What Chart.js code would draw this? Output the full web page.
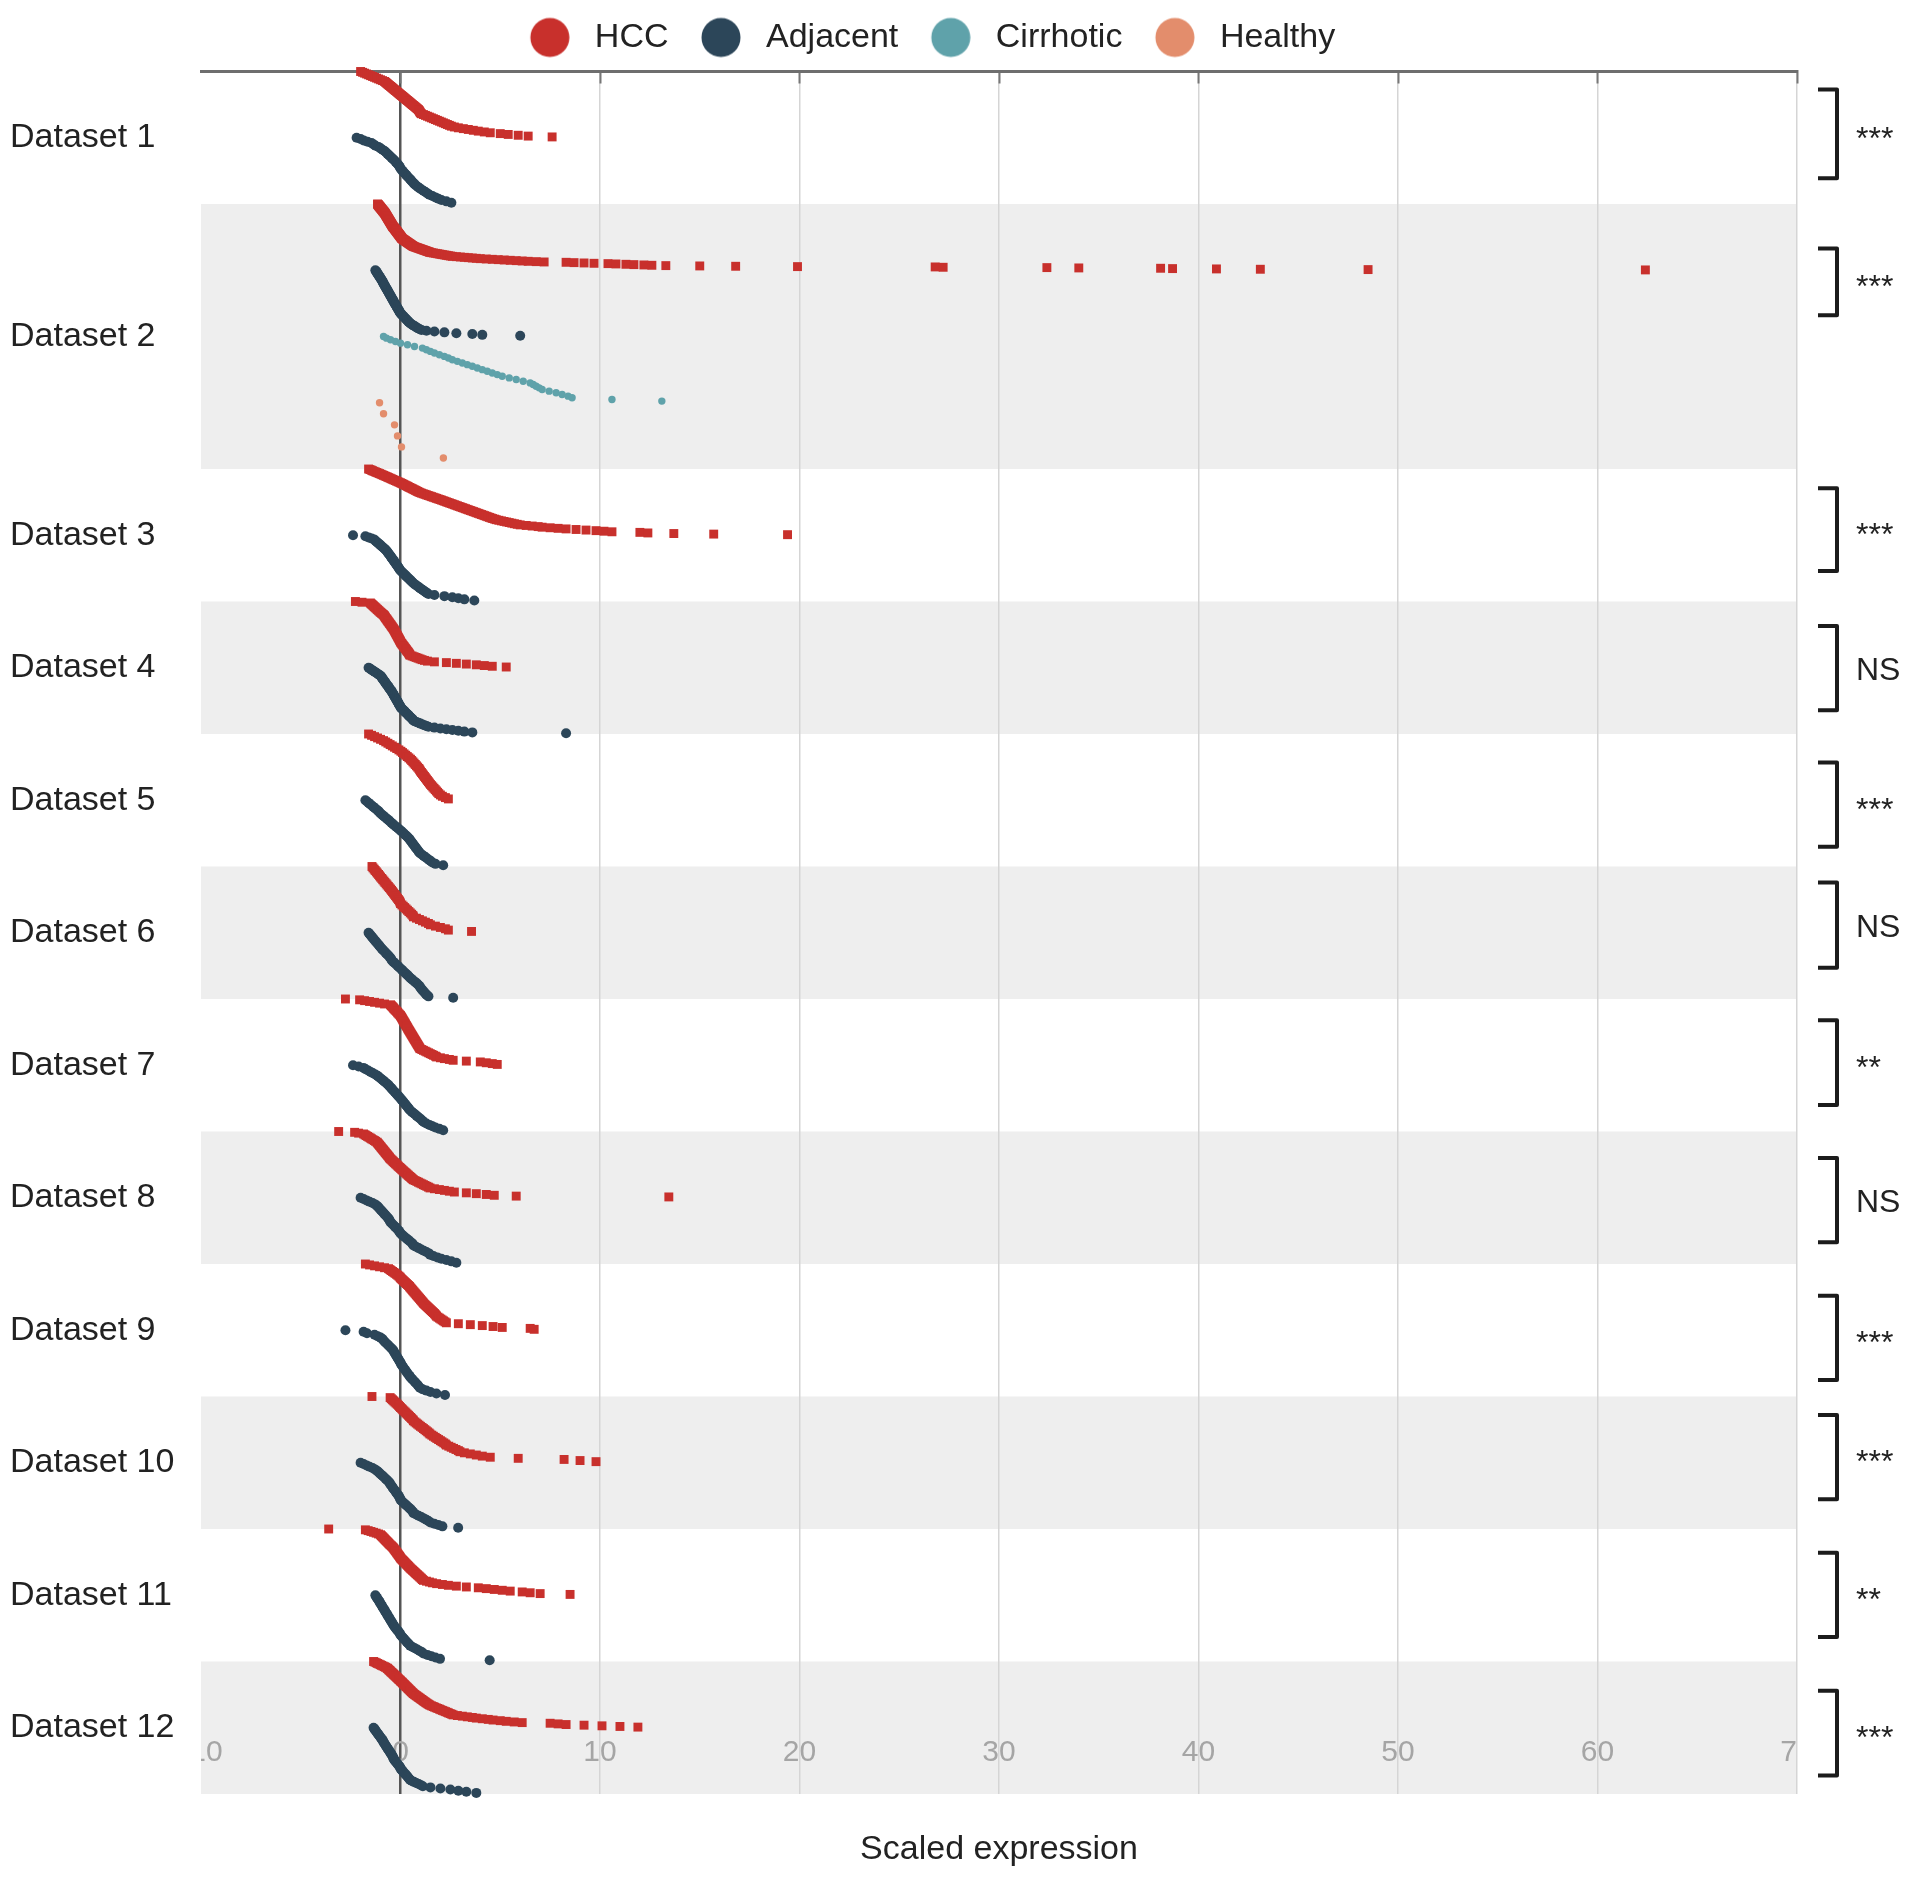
<!DOCTYPE html>
<html>
<head>
<meta charset="utf-8">
<script src="https://cdn.jsdelivr.net/npm/chart.js@4.4.1/dist/chart.umd.min.js"></script>
<style>
  html, body { margin: 0; padding: 0; background: #ffffff; }
  canvas { display: block; }
</style>
</head>
<body>
<canvas id="chart" width="1913" height="1879"></canvas>
<script>
// rows of the chart and their significance marks
const datasetLabels = ['Dataset 1', 'Dataset 2', 'Dataset 3', 'Dataset 4', 'Dataset 5', 'Dataset 6',
  'Dataset 7', 'Dataset 8', 'Dataset 9', 'Dataset 10', 'Dataset 11', 'Dataset 12'];
const significance = ['***', '***', '***', 'NS', '***', 'NS', '**', 'NS', '***', '***', '**', '***'];
// groups drawn in each row (HCC, Adjacent, then Cirrhotic and Healthy for Dataset 2)
const groupsPerRow = [2, 4, 2, 2, 2, 2, 2, 2, 2, 2, 2, 2];
// bracket extent inside each row, in group units
const bracketFrom = [0.27, 0.67, 0.29, 0.37, 0.43, 0.24, 0.32, 0.40, 0.48, 0.28, 0.36, 0.44];
const bracketTo = [1.61, 1.68, 1.54, 1.64, 1.70, 1.53, 1.60, 1.67, 1.75, 1.55, 1.63, 1.72];

const xMin = -10;
const xMax = 70;
const xStep = 10;

// sorted scaled expression values
const hcc1 = [-2.0,-1.9,-1.8,-1.7,-1.6,-1.5,-1.4,-1.3,-1.2,-1.1,-1.0,-0.9,
  -0.8,-0.75,-0.7,-0.65,-0.6,-0.55,-0.5,-0.45,-0.4,-0.35,-0.3,-0.25,-0.2,-0.15,-0.1,-0.05,0.0,
  0.05,0.1,0.15,0.2,0.25,0.3,0.35,0.4,0.45,0.5,0.55,0.6,0.65,0.7,0.75,0.8,0.85,0.9,0.93,0.95,0.98,1.0,
  1.05,1.15,1.25,1.35,1.45,1.55,1.65,1.75,1.85,1.95,2.05,2.15,2.25,2.35,2.45,2.55,
  2.7,2.9,3.15,3.4,3.65,3.9,4.2,4.5,5.0,5.4,5.9,6.4,7.6];
const adjacent1 = [-2.2,-2.0,-1.85,-1.65,-1.45,-1.35,-1.25,-1.1,-1.0,-0.9,
  -0.8,-0.73,-0.66,-0.59,-0.52,-0.45,-0.38,-0.31,-0.25,-0.19,-0.13,-0.08,-0.04,0.0,
  0.04,0.1,0.16,0.22,0.28,0.34,0.4,0.46,0.52,0.58,0.64,
  0.7,0.78,0.86,0.95,1.05,1.15,1.25,1.35,1.45,1.6,1.75,1.9,2.05,2.3,2.55];

const hcc2 = [-1.15,-1.14,-1.12,-1.11,-1.10,-1.08,-1.07,-1.06,-1.04,-1.03,-1.02,-1.0,-0.99,-0.98,-0.96,
  -0.95,-0.94,-0.92,-0.91,-0.9,-0.88,-0.87,-0.86,-0.84,-0.83,-0.82,-0.8,-0.79,-0.78,-0.77,
  -0.76,-0.75,-0.74,-0.73,-0.72,-0.71,-0.70,-0.69,-0.68,-0.67,-0.66,-0.65,-0.64,-0.63,-0.62,-0.61,-0.60,
  -0.59,-0.58,-0.57,-0.56,-0.55,-0.54,-0.53,-0.52,-0.51,-0.50,-0.49,-0.48,-0.47,-0.46,-0.45,-0.44,-0.43,
  -0.42,-0.41,-0.40,-0.39,-0.38,-0.37,
  -0.35,-0.34,-0.32,-0.31,-0.30,-0.29,-0.27,-0.26,-0.25,-0.24,-0.22,-0.21,-0.20,-0.19,-0.17,-0.16,-0.15,
  -0.14,-0.12,-0.11,-0.10,-0.09,-0.07,-0.06,-0.05,-0.04,-0.02,-0.01,0,0.01,0.03,0.04,0.05,0.06,
  0.07,0.1,0.12,0.14,0.17,0.19,0.22,0.24,0.26,0.29,0.31,0.34,0.36,0.38,0.41,0.43,0.46,0.48,0.5,0.53,0.55,0.58,0.6,0.63,
  0.65,0.7,0.74,0.79,0.84,0.88,0.93,0.98,1.02,1.07,1.12,1.16,1.21,1.26,1.3,1.35,1.4,1.45,
  1.48,1.57,1.66,1.76,1.85,1.94,2.03,2.12,2.22,2.31,2.4,2.5,
  2.6,2.8,3.0,3.2,3.4,3.6,3.8,4.0,
  4.3,4.6,4.9,5.2,5.5,5.8,6.1,6.4,6.8,7.2,8.3,8.7,9.2,9.7,10.4,10.8,11.3,11.7,12.2,12.6,
  13.3,15.0,16.8,19.9,26.8,27.2,32.4,34.0,38.1,38.7,40.9,43.1,48.5,62.4];
const adjacent2 = [-1.26,-1.23,-1.2,-1.18,-1.15,-1.12,-1.1,-1.07,-1.04,-1.02,-0.99,-0.96,-0.94,-0.91,-0.89,-0.87,
  -0.85,-0.83,-0.8,-0.78,-0.76,-0.73,-0.71,-0.68,-0.66,-0.64,-0.61,-0.59,-0.57,-0.54,-0.52,-0.5,-0.47,-0.45,
  -0.43,-0.4,-0.38,-0.36,-0.33,-0.31,-0.29,-0.26,-0.24,-0.21,-0.19,-0.17,-0.14,-0.12,-0.09,-0.07,-0.05,-0.02,
  0,0.04,0.08,0.12,0.16,0.2,0.24,0.28,0.32,0.36,0.4,0.45,
  0.48,0.54,0.6,0.67,0.74,0.8,0.87,0.95,
  1.05,1.3,1.7,2.2,2.8,3.6,4.1,6.0];
const cirrhotic2 = [-0.85,-0.7,-0.5,-0.25,0,0.35,0.7,1.1,1.3,1.5,1.7,1.95,2.2,2.4,2.6,2.85,3.1,3.35,3.6,3.85,
  4.1,4.35,4.6,4.85,5.1,5.45,5.8,6.15,6.5,6.65,6.8,6.95,7.1,7.45,7.8,8.1,8.4,8.6,10.6,13.1];
const healthy2 = [-1.05,-0.85,-0.3,-0.15,0.05,2.15];

const hcc3 = [-1.6,-1.53,-1.46,-1.4,-1.33,-1.26,-1.19,-1.12,-1.05,-0.98,-0.92,
  -0.85,-0.78,-0.72,-0.65,-0.59,-0.52,-0.46,-0.39,-0.33,-0.26,-0.2,-0.13,-0.07,
  0,0.06,0.12,0.17,0.23,0.29,0.35,0.4,0.46,0.52,0.58,0.63,0.69,0.75,0.81,0.86,0.92,
  0.98,1.06,1.14,1.23,1.31,1.39,1.48,1.56,1.64,1.73,1.81,1.89,1.98,2.06,
  2.14,2.22,2.3,2.38,2.46,2.54,2.62,2.7,2.78,2.86,2.94,3.02,3.1,3.18,3.26,3.34,3.42,
  3.5,3.58,3.66,3.74,3.82,3.9,3.98,4.06,4.14,4.22,4.3,4.38,4.46,4.54,4.62,4.72,
  4.8,4.93,5.06,5.19,5.32,5.45,5.58,5.71,5.85,
  6.0,6.3,6.6,6.9,7.1,7.5,7.9,8.3,8.8,9.3,
  9.8,10.2,10.6,12.0,12.4,13.7,15.7,19.4];
const adjacent3 = [-2.38,-1.76,-1.6,-1.45,-1.32,
  -1.26,-1.2,-1.14,-1.08,-1.02,-0.96,-0.9,-0.84,-0.78,-0.72,
  -0.68,-0.64,-0.6,-0.56,-0.52,-0.48,-0.45,-0.41,-0.37,-0.33,-0.29,-0.26,-0.22,-0.18,-0.14,-0.11,-0.07,-0.04,
  0,0.05,0.11,0.16,0.22,0.27,0.33,0.38,0.44,0.49,0.55,0.6,
  0.65,0.72,0.8,0.87,0.95,1.02,1.1,1.17,1.25,1.32,1.4,
  1.7,2.2,2.6,2.9,3.2,3.7];

const hcc4 = [-2.26,-1.93,
  -1.51,-1.47,-1.43,-1.39,-1.35,-1.31,-1.27,-1.23,-1.19,-1.15,-1.11,-1.07,-1.03,-0.99,-0.95,-0.9,
  -0.85,-0.82,-0.8,-0.77,-0.75,-0.72,-0.69,-0.67,-0.64,-0.62,-0.59,-0.56,-0.54,-0.51,-0.48,-0.46,-0.43,-0.41,-0.38,
  -0.35,-0.33,-0.31,-0.29,-0.27,-0.25,-0.23,-0.21,-0.19,-0.17,-0.15,-0.13,-0.11,-0.09,-0.07,-0.05,-0.03,-0.01,
  0,0.03,0.06,0.08,0.11,0.14,0.17,0.19,0.22,0.25,0.28,0.3,0.33,0.36,0.39,0.41,0.44,0.46,
  0.48,0.58,0.68,0.78,0.88,0.98,1.08,1.2,1.35,
  1.7,2.3,2.8,3.3,3.8,4.2,4.6,5.3];
const adjacent4 = [-1.6,-1.54,-1.48,-1.42,-1.36,-1.3,-1.24,-1.18,-1.12,-1.06,
  -1.0,-0.97,-0.94,-0.92,-0.89,-0.86,-0.83,-0.8,-0.77,-0.75,-0.72,-0.69,-0.66,-0.63,-0.6,-0.58,-0.55,-0.52,-0.49,-0.46,
  -0.43,-0.41,-0.39,-0.36,-0.34,-0.32,-0.3,-0.27,-0.25,-0.23,-0.2,-0.18,-0.16,-0.14,-0.11,-0.09,-0.07,-0.05,-0.02,0,
  0.02,0.06,0.1,0.14,0.18,0.22,0.26,0.3,0.34,0.38,0.42,0.46,0.5,0.54,0.58,0.62,0.65,
  0.7,0.8,0.9,1.0,1.1,1.2,1.3,1.4,
  1.7,2.0,2.3,2.6,2.9,3.2,3.6,8.3];

const hcc5 = [-1.6,-1.45,-1.3,-1.15,-1.0,-0.85,-0.74,-0.63,-0.52,-0.41,-0.3,-0.19,-0.08,
  0.02,0.1,0.18,0.26,0.34,0.42,0.5,0.56,0.62,0.68,0.74,0.8,0.86,0.92,0.96,
  1.0,1.05,1.1,1.15,1.2,1.25,1.3,1.35,1.4,1.45,1.5,1.56,1.62,1.68,1.74,1.8,1.86,1.92,2.0,2.1,2.25,2.4];
const adjacent5 = [-1.76,-1.68,-1.6,-1.52,-1.44,-1.36,-1.28,-1.2,-1.12,-1.05,-1.0,-0.92,-0.84,-0.76,-0.68,-0.6,
  -0.52,-0.46,-0.38,-0.3,-0.22,-0.14,-0.06,0.02,0.09,0.16,0.23,0.3,0.37,0.44,
  0.48,0.53,0.58,0.63,0.68,0.73,0.78,0.83,0.88,0.93,0.98,1.07,1.16,1.25,1.34,1.43,1.52,1.6,1.75,2.14];

const hcc6 = [-1.43,-1.38,-1.32,-1.27,-1.21,-1.16,-1.1,-1.05,-1.0,-0.94,-0.89,-0.83,-0.78,-0.72,-0.67,-0.61,
  -0.56,-0.5,-0.45,-0.4,-0.35,-0.3,-0.25,-0.2,-0.15,-0.1,-0.05,-0.02,
  0,0.07,0.14,0.21,0.28,0.35,0.42,0.49,0.56,0.62,0.65,0.8,0.95,1.1,1.25,1.4,1.5,1.75,2.0,2.25,2.4,3.56];
const adjacent6 = [-1.6,-1.55,-1.49,-1.44,-1.38,-1.33,-1.27,-1.22,-1.16,-1.1,-1.05,-1.0,-0.94,-0.88,-0.81,-0.75,
  -0.69,-0.62,-0.56,-0.5,-0.46,-0.43,-0.36,-0.28,-0.21,-0.14,-0.07,
  0,0.07,0.14,0.21,0.28,0.35,0.42,0.48,0.56,0.64,0.72,0.8,0.88,0.94,0.98,1.03,1.08,1.14,1.2,1.26,1.31,1.4,2.64];

const hcc7 = [-2.76,-2.05,-1.8,-1.55,-1.3,-1.05,-0.8,
  -0.5,-0.46,-0.42,-0.38,-0.35,-0.31,-0.27,-0.23,-0.19,-0.15,-0.12,-0.08,-0.04,
  0,0.02,0.05,0.07,0.1,0.12,0.14,0.17,0.19,0.22,0.24,0.26,0.29,0.31,0.34,0.36,0.38,0.41,0.43,0.46,
  0.48,0.51,0.53,0.56,0.58,0.61,0.63,0.66,0.68,0.71,0.73,0.76,0.78,0.81,0.83,0.86,0.88,0.91,0.93,0.96,
  0.98,1.07,1.15,1.24,1.32,1.41,1.49,1.58,1.66,1.75,
  1.81,2.0,2.2,2.45,2.64,3.3,4.0,4.3,4.6,4.85];
const adjacent7 = [-2.38,-2.1,-1.85,-1.75,-1.62,-1.5,-1.38,-1.26,-1.15,-1.07,-0.99,-0.91,-0.83,-0.75,-0.67,-0.6,
  -0.54,-0.48,-0.42,-0.36,-0.3,-0.24,-0.18,-0.12,-0.06,
  0,0.05,0.11,0.16,0.22,0.27,0.32,0.38,0.43,0.48,0.56,0.64,0.72,0.8,0.88,0.96,1.04,1.1,
  1.18,1.3,1.45,1.6,1.75,1.95,2.14];

const hcc8 = [-3.1,-2.3,-2.1,
  -1.85,-1.78,-1.72,-1.65,-1.58,-1.51,-1.45,-1.38,-1.31,-1.25,
  -1.18,-1.15,-1.11,-1.08,-1.05,-1.01,-0.98,-0.95,-0.91,-0.88,-0.85,-0.81,-0.78,-0.75,-0.71,-0.68,-0.65,-0.61,-0.58,-0.55,
  -0.52,-0.48,-0.43,-0.39,-0.35,-0.3,-0.26,-0.22,-0.17,-0.13,-0.09,-0.04,
  0,0.05,0.09,0.14,0.18,0.23,0.28,0.32,0.37,0.41,0.46,0.51,0.55,0.6,
  0.65,0.73,0.82,0.9,0.98,1.07,1.15,1.23,1.32,1.4,
  1.48,1.7,1.95,2.2,2.45,2.7,3.3,3.8,4.3,4.7,5.8,13.45];
const adjacent8 = [-2.0,-1.85,-1.7,-1.55,-1.4,-1.27,-1.18,-1.12,-1.06,-1.0,-0.94,-0.88,-0.82,-0.76,-0.7,-0.64,
  -0.58,-0.55,-0.52,-0.46,-0.4,-0.33,-0.27,-0.2,-0.14,-0.08,-0.03,
  0,0.08,0.16,0.24,0.32,0.4,0.48,0.56,0.62,0.65,0.78,0.91,1.04,1.17,1.3,1.43,
  1.48,1.65,1.85,2.05,2.3,2.55,2.8];

const hcc9 = [-1.76,-1.55,-1.3,-1.05,-0.8,
  -0.6,-0.53,-0.47,-0.4,-0.33,-0.27,-0.2,-0.14,-0.08,-0.03,
  0,0.05,0.1,0.15,0.2,0.25,0.3,0.35,0.4,0.45,
  0.48,0.52,0.56,0.6,0.64,0.68,0.72,0.76,0.8,0.84,0.88,0.92,0.96,1.0,1.04,1.08,1.12,
  1.15,1.2,1.25,1.3,1.35,1.4,1.45,1.5,1.55,1.6,1.65,1.7,1.74,1.78,
  1.81,1.88,1.95,2.02,2.09,2.16,2.23,
  2.3,2.9,3.5,4.1,4.64,5.1,6.5,6.7];
const adjacent9 = [-2.76,-1.85,-1.68,-1.3,-1.15,-1.0,-0.9,-0.85,-0.78,-0.7,-0.62,-0.55,-0.47,-0.4,
  -0.35,-0.31,-0.27,-0.22,-0.18,-0.13,-0.09,-0.04,
  0,0.03,0.08,0.13,0.18,0.24,0.29,0.34,0.4,0.45,0.5,0.57,0.64,0.71,0.78,0.85,0.91,0.97,
  1.1,1.3,1.5,1.8,2.23];

const hcc10 = [-1.43,-0.52,-0.46,-0.4,-0.34,-0.28,-0.22,-0.16,-0.1,-0.05,
  0,0.06,0.11,0.17,0.23,0.28,0.34,0.4,0.45,0.51,0.56,0.62,
  0.65,0.72,0.79,0.86,0.93,1.0,1.08,1.15,1.22,1.29,1.36,1.43,
  1.48,1.57,1.65,1.74,1.82,1.91,2.0,2.08,2.17,2.25,
  2.3,2.42,2.54,2.66,2.78,2.9,2.98,3.2,3.5,3.8,4.1,4.5,5.9,8.2,9.0,9.8];
const adjacent10 = [-2.0,-1.85,-1.7,-1.55,-1.4,-1.28,-1.18,-1.11,-1.04,-0.96,-0.89,-0.82,-0.75,-0.68,-0.61,-0.55,
  -0.52,-0.47,-0.42,-0.38,-0.33,-0.28,-0.23,-0.19,-0.14,-0.09,-0.05,-0.02,
  0,0.07,0.14,0.21,0.28,0.36,0.43,0.5,0.57,0.62,
  0.65,0.78,0.91,1.04,1.17,1.3,1.4,1.5,1.7,1.9,2.1,2.89];

const hcc11 = [-3.6,-1.76,-1.62,-1.48,-1.35,-1.22,-1.1,
  -1.0,-0.96,-0.92,-0.88,-0.84,-0.8,-0.76,-0.72,-0.68,-0.64,-0.6,-0.56,-0.52,-0.47,-0.43,-0.39,
  -0.35,-0.32,-0.29,-0.26,-0.23,-0.2,-0.17,-0.14,-0.11,-0.08,-0.05,-0.02,
  0,0.04,0.08,0.12,0.16,0.2,0.24,0.28,0.32,0.36,0.4,0.44,
  0.48,0.52,0.57,0.61,0.66,0.7,0.75,0.79,0.84,0.88,0.93,0.97,1.02,1.06,1.1,
  1.15,1.3,1.45,1.6,1.81,2.1,2.4,2.8,
  3.3,3.9,4.3,4.7,5.1,5.5,6.1,6.5,7.0,8.5];
const adjacent11 = [-1.26,-1.22,-1.18,-1.13,-1.09,-1.05,-1.01,-0.97,-0.93,-0.89,
  -0.85,-0.81,-0.77,-0.73,-0.69,-0.65,-0.61,-0.57,-0.53,-0.49,-0.45,-0.41,-0.37,
  -0.33,-0.28,-0.23,-0.18,-0.12,-0.07,-0.02,
  0,0.06,0.12,0.18,0.24,0.3,0.36,0.43,0.48,0.6,0.72,0.84,0.96,1.08,
  1.15,1.35,1.55,1.75,1.98,4.47];

const hcc12 = [-1.35,-1.28,-1.21,-1.15,-1.08,-1.01,-0.95,-0.88,-0.81,-0.75,
  -0.68,-0.65,-0.61,-0.58,-0.54,-0.51,-0.48,-0.44,-0.41,-0.37,-0.34,-0.31,-0.27,-0.24,-0.2,-0.17,-0.14,-0.1,-0.07,-0.03,
  0,0.03,0.07,0.1,0.13,0.16,0.2,0.23,0.26,0.29,0.33,0.36,0.39,0.42,0.46,0.49,0.52,0.55,0.59,0.62,
  0.65,0.7,0.74,0.79,0.83,0.88,0.92,0.97,1.01,1.06,1.1,1.15,1.19,1.24,1.28,1.33,1.38,1.43,
  1.48,1.56,1.64,1.71,1.79,1.87,1.95,2.02,2.1,2.18,2.26,2.34,2.41,2.49,2.57,
  2.64,2.85,3.1,3.35,3.6,3.8,4.1,4.4,4.64,
  5.0,5.3,5.7,6.1,7.5,7.9,8.3,9.2,10.1,11.0,11.9];
const adjacent12 = [-1.35,-1.31,-1.27,-1.23,-1.19,-1.15,-1.11,-1.07,-1.03,-0.99,-0.95,-0.91,-0.87,
  -0.85,-0.81,-0.78,-0.74,-0.71,-0.67,-0.64,-0.6,-0.56,-0.53,-0.49,-0.46,-0.42,-0.39,-0.36,
  -0.35,-0.31,-0.27,-0.22,-0.18,-0.14,-0.09,-0.05,-0.01,
  0,0.05,0.1,0.14,0.19,0.24,0.29,0.34,0.38,0.43,0.47,
  0.55,0.67,0.79,0.91,1.03,1.12,1.5,2.0,2.5,2.9,3.3,3.8];

const hccSeries = [hcc1, hcc2, hcc3, hcc4, hcc5, hcc6, hcc7, hcc8, hcc9, hcc10, hcc11, hcc12];
const adjacentSeries = [adjacent1, adjacent2, adjacent3, adjacent4, adjacent5, adjacent6,
  adjacent7, adjacent8, adjacent9, adjacent10, adjacent11, adjacent12];

const colors = { hcc: '#c8302c', adjacent: '#2c4659', cirrhotic: '#5fa2aa', healthy: '#e38d6c' };

// where each row starts on the y scale (one unit per group)
const rowStart = [];
groupsPerRow.reduce((acc, g, i) => { rowStart[i] = acc; return acc + g; }, 0);
const totalUnits = groupsPerRow.reduce((a, b) => a + b, 0);
const rowCenters = rowStart.map((s, i) => s + groupsPerRow[i] / 2);

// sorted values stacked down their group by rank
const rankPoints = (values, top) => values.map((v, i) => ({ x: v, y: top + i / values.length }));

const hccPoints = hccSeries.flatMap((vals, r) => rankPoints(vals, rowStart[r]));
const adjacentPoints = adjacentSeries.flatMap((vals, r) => rankPoints(vals, rowStart[r] + 1));
const cirrhoticPoints = rankPoints(cirrhotic2, rowStart[1] + 2);
const healthyPoints = rankPoints(healthy2, rowStart[1] + 3);

// round legend marker, a little bigger than the text box
const legendDot = (color) => {
  const c = document.createElement('canvas');
  c.width = 44;
  c.height = 44;
  const g = c.getContext('2d');
  g.fillStyle = color;
  g.beginPath();
  g.arc(24, 22, 19.5, 0, Math.PI * 2);
  g.fill();
  return c;
};

const bands = {
  id: 'bands',
  afterLayout(chart) {
    // the legend sits a bit right of the canvas centre
    chart.legend.left += 23;
    chart.legend.right += 23;
  },
  beforeDraw(chart) {
    const { ctx, chartArea: a, scales: { y } } = chart;
    ctx.save();
    ctx.fillStyle = '#eeeeee';
    groupsPerRow.forEach((g, r) => {
      if (r % 2 === 0) return;
      const top = y.getPixelForValue(rowStart[r]);
      const bottom = y.getPixelForValue(rowStart[r] + g);
      ctx.fillRect(a.left, top, a.right - a.left, bottom - top);
    });
    ctx.restore();
  }
};

// x tick labels sit inside the plot and are cut at its edges
const clipXLabels = {
  id: 'clipXLabels',
  beforeDraw(chart) {
    const scale = chart.scales.x;
    if (scale.$clipped) return;
    const draw = scale.drawLabels;
    scale.drawLabels = function (area) {
      const a = chart.chartArea;
      const ctx = chart.ctx;
      ctx.save();
      ctx.beginPath();
      ctx.rect(a.left, a.top, a.right - a.left, a.bottom - a.top);
      ctx.clip();
      draw.call(this, area);
      ctx.restore();
    };
    scale.$clipped = true;
  }
};

const brackets = {
  id: 'brackets',
  afterDraw(chart) {
    const { ctx, chartArea: a, scales: { y } } = chart;
    const xArm = a.right + 21;
    const xBar = a.right + 40;
    const xText = a.right + 59;
    ctx.save();
    ctx.strokeStyle = '#1c1c1c';
    ctx.lineWidth = 4;
    ctx.lineJoin = 'round';
    ctx.fillStyle = '#222222';
    ctx.textAlign = 'left';
    ctx.textBaseline = 'alphabetic';
    ctx.font = '32px "Liberation Sans", Arial, sans-serif';
    significance.forEach((label, r) => {
      const y1 = y.getPixelForValue(rowStart[r] + bracketFrom[r]);
      const y2 = y.getPixelForValue(rowStart[r] + bracketTo[r]);
      ctx.beginPath();
      ctx.moveTo(xArm, y1);
      ctx.lineTo(xBar, y1);
      ctx.lineTo(xBar, y2);
      ctx.lineTo(xArm, y2);
      ctx.stroke();
      const mid = (y1 + y2) / 2;
      const base = label === 'NS' ? mid + 11.5 : mid + 15;
      ctx.fillText(label, xText, base);
    });
    ctx.restore();
  }
};

Chart.defaults.font.family = '"Liberation Sans", Arial, Helvetica, sans-serif';
Chart.defaults.color = '#222222';

new Chart(document.getElementById('chart'), {
  type: 'scatter',
  data: {
    datasets: [
      { label: 'HCC', data: hccPoints, backgroundColor: colors.hcc, pointStyle: 'rect', pointRadius: 6.3 },
      { label: 'Adjacent', data: adjacentPoints, backgroundColor: colors.adjacent, pointRadius: 5 },
      { label: 'Cirrhotic', data: cirrhoticPoints, backgroundColor: colors.cirrhotic, pointRadius: 3.7 },
      { label: 'Healthy', data: healthyPoints, backgroundColor: colors.healthy, pointRadius: 3.7 }
    ]
  },
  options: {
    responsive: false,
    devicePixelRatio: 1,
    animation: false,
    events: [],
    datasets: { scatter: { pointBorderWidth: 0, clip: false } },
    layout: { padding: { top: 0, left: 10, right: 116, bottom: 5 } },
    plugins: {
      tooltip: { enabled: false },
      legend: {
        position: 'top',
        labels: {
          usePointStyle: true,
          pointStyleWidth: 60,
          padding: 20.5,
          font: { size: 34 },
          generateLabels: (chart) => chart.data.datasets.map((ds, i) => ({
            text: ds.label,
            pointStyle: legendDot(ds.backgroundColor),
            fillStyle: ds.backgroundColor,
            strokeStyle: 'rgba(0,0,0,0)',
            lineWidth: 0,
            hidden: false,
            datasetIndex: i,
            fontColor: '#222222'
          }))
        }
      }
    },
    scales: {
      x: {
        type: 'linear',
        position: 'bottom',
        min: xMin,
        max: xMax,
        ticks: { stepSize: xStep, mirror: true, padding: 23, color: '#a5a5a5', font: { size: 30 } },
        grid: {
          drawTicks: false,
          color: (c) => c.tick.value === 0 ? '#555555' : (c.tick.value === xMin ? 'rgba(0,0,0,0)' : '#d5d5d5'),
          lineWidth: (c) => c.tick.value === 0 ? 2.5 : 1.5
        },
        border: { display: false },
        title: {
          display: true,
          text: 'Scaled expression',
          color: '#222222',
          font: { size: 34 },
          padding: { top: 0, bottom: 4 }
        },
        afterFit: (s) => { s.height = 80; }
      },
      xTop: {
        type: 'linear',
        axis: 'x',
        position: 'top',
        min: xMin,
        max: xMax,
        ticks: { display: false, stepSize: xStep },
        grid: {
          display: true,
          drawOnChartArea: false,
          drawTicks: true,
          tickLength: -12,
          tickWidth: 2,
          tickColor: (c) => c.tick && c.tick.value === xMin ? 'rgba(0,0,0,0)' : '#777777'
        },
        border: { display: true, color: '#6e6e6e', width: 3 },
        afterFit: (s) => { s.height = 7; }
      },
      y: {
        type: 'linear',
        position: 'left',
        min: 0,
        max: totalUnits,
        reverse: true,
        afterBuildTicks: (s) => { s.ticks = rowCenters.map((v) => ({ value: v })); },
        ticks: {
          autoSkip: false,
          crossAlign: 'far',
          color: '#222222',
          font: { size: 34 },
          callback: (value, index) => datasetLabels[index]
        },
        grid: { display: false },
        border: { display: false },
        afterFit: (s) => { s.width = 191; }
      }
    }
  },
  plugins: [bands, clipXLabels, brackets]
});
</script>
</body>
</html>
